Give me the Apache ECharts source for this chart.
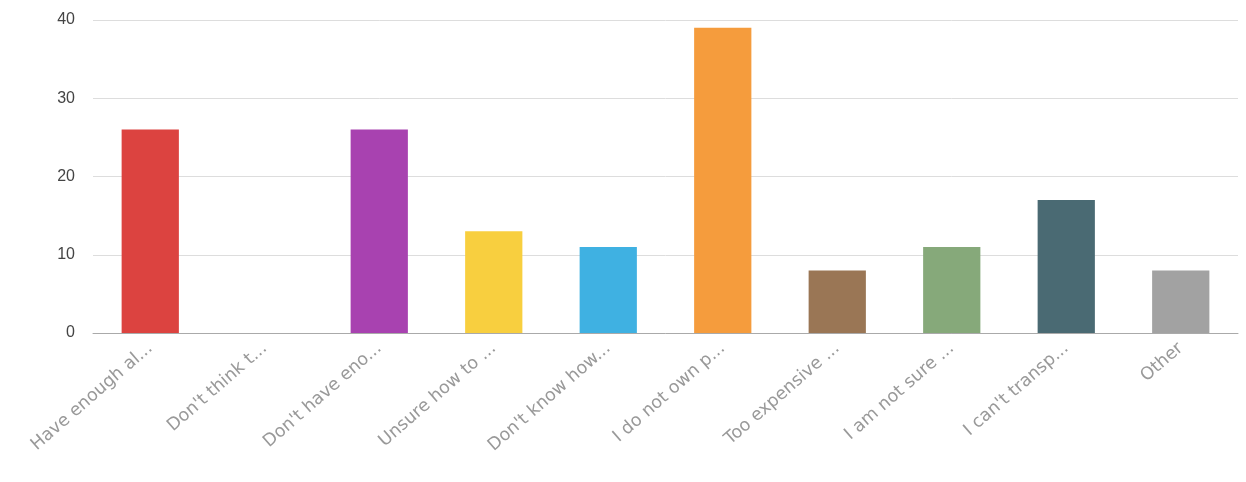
<!DOCTYPE html>
<html>
<head>
<meta charset="utf-8">
<script src="https://cdn.jsdelivr.net/npm/echarts@6/dist/echarts.min.js"></script>
<style>html,body{margin:0;padding:0;background:#fff}#c{width:1246px;height:482px}</style>
</head>
<body>
<div id="c"></div>
<script>
const categories = ["Have enough al...", "Don't think t...", "Don't have eno...", "Unsure how to ...", "Don't know how...", "I do not own p...", "Too expensive ...", "I am not sure ...", "I can't transp...", "Other"];
const values = [26, 0, 26, 13, 11, 39, 8, 11, 17, 8];
const colors = ["#dc4340", "#888888", "#a842b0", "#f8cf3f", "#3fb1e2", "#f59c3d", "#9a7655", "#86a97a", "#4a6a73", "#a2a2a2"];
const yTicks = [0, 10, 20, 30, 40];

const chart = echarts.init(document.getElementById('c'));
chart.setOption({
  animation: false,
  grid: { left: 93, right: 8, top: 20, bottom: 149 },
  xAxis: {
    type: 'category',
    data: categories,
    axisLine: { lineStyle: { color: '#aaaaaa' } },
    axisTick: { alignWithLabel: true, length: 4, lineStyle: { color: '#999999' } },
    axisLabel: { rotate: 41, interval: 0, color: '#999999', fontSize: 17.5, fontFamily: 'DejaVu Sans', margin: 13 }
  },
  yAxis: {
    type: 'value',
    min: yTicks[0],
    max: yTicks[yTicks.length - 1],
    interval: 10,
    axisLine: { show: false },
    axisTick: { show: false },
    splitLine: { lineStyle: { color: '#dddddd' } },
    axisLabel: { color: '#444444', fontSize: 16, fontFamily: 'Liberation Sans', margin: 18 }
  },
  series: [{
    type: 'bar',
    barWidth: '50%',
    data: values.map((v, i) => ({ value: v, itemStyle: { color: colors[i] } }))
  }]
});
</script>
</body>
</html>
